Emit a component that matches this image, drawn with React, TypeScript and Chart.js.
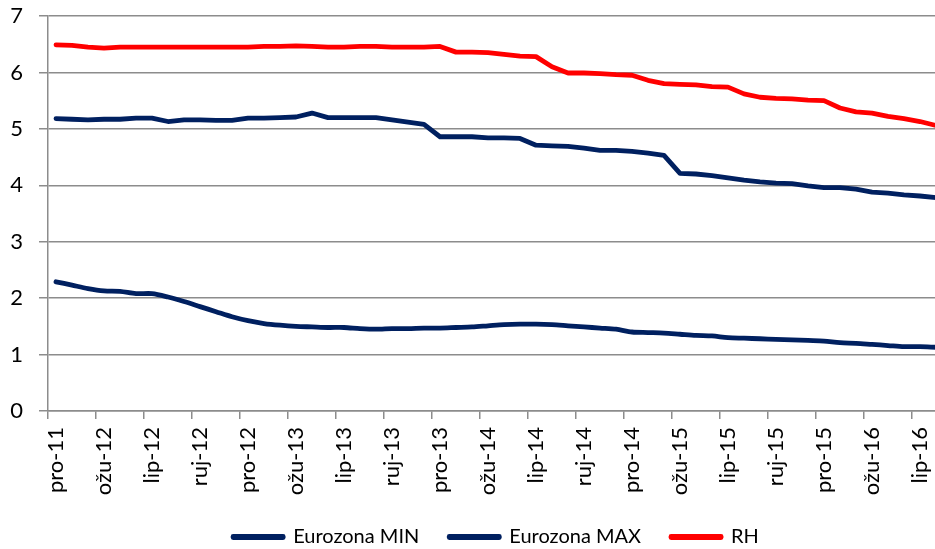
import React, { useEffect, useRef } from "react";
import { Chart, registerables } from "chart.js";

Chart.register(...registerables);

const categories = [
  "pro-11",
  "sij-12", "velj-12", "ožu-12", "tra-12", "svi-12", "lip-12", "srp-12", "kol-12", "ruj-12", "lis-12", "stu-12", "pro-12",
  "sij-13", "velj-13", "ožu-13", "tra-13", "svi-13", "lip-13", "srp-13", "kol-13", "ruj-13", "lis-13", "stu-13", "pro-13",
  "sij-14", "velj-14", "ožu-14", "tra-14", "svi-14", "lip-14", "srp-14", "kol-14", "ruj-14", "lis-14", "stu-14", "pro-14",
  "sij-15", "velj-15", "ožu-15", "tra-15", "svi-15", "lip-15", "srp-15", "kol-15", "ruj-15", "lis-15", "stu-15", "pro-15",
  "sij-16", "velj-16", "ožu-16", "tra-16", "svi-16", "lip-16", "srp-16",
];

const eurozonaMin = [
  2.29, 2.23, 2.17, 2.13, 2.12, 2.08, 2.08, 2.02, 1.94, 1.85, 1.76, 1.67, 1.60,
  1.55, 1.52, 1.50, 1.49, 1.48, 1.48, 1.46, 1.45, 1.46, 1.46, 1.47, 1.47,
  1.48, 1.49, 1.51, 1.53, 1.54, 1.54, 1.53, 1.51, 1.49, 1.47, 1.45, 1.40,
  1.39, 1.38, 1.36, 1.34, 1.33, 1.30, 1.29, 1.28, 1.27, 1.26, 1.25, 1.24,
  1.21, 1.20, 1.18, 1.16, 1.14, 1.14, 1.13,
];

const eurozonaMax = [
  5.18, 5.17, 5.16, 5.17, 5.17, 5.19, 5.19, 5.13, 5.16, 5.16, 5.15, 5.15, 5.19,
  5.19, 5.20, 5.21, 5.28, 5.20, 5.20, 5.20, 5.20, 5.16, 5.12, 5.08, 4.86,
  4.86, 4.86, 4.84, 4.84, 4.83, 4.71, 4.70, 4.69, 4.66, 4.62, 4.62, 4.60,
  4.57, 4.53, 4.21, 4.20, 4.17, 4.13, 4.09, 4.06, 4.04, 4.03, 3.99, 3.96,
  3.96, 3.93, 3.88, 3.86, 3.83, 3.81, 3.78,
];

const rh = [
  6.49, 6.48, 6.45, 6.43, 6.45, 6.45, 6.45, 6.45, 6.45, 6.45, 6.45, 6.45, 6.45,
  6.46, 6.46, 6.47, 6.46, 6.45, 6.45, 6.46, 6.46, 6.45, 6.45, 6.45, 6.46,
  6.36, 6.36, 6.35, 6.32, 6.29, 6.28, 6.10, 5.99, 5.99, 5.98, 5.96, 5.95,
  5.86, 5.80, 5.79, 5.78, 5.75, 5.74, 5.62, 5.56, 5.54, 5.53, 5.51, 5.50,
  5.37, 5.30, 5.28, 5.22, 5.18, 5.13, 5.06,
];

const yTickValues = [0, 1, 2, 3, 4, 5, 6, 7];
const labelEvery = 3;

const FONT = "Lato, 'Open Sans', sans-serif";
const NAVY = "#002060";
const RED = "#FF0000";
const GRID = "#8c8c8c";

export default function App() {
  const ref = useRef<HTMLCanvasElement>(null);

  useEffect(() => {
    if (!ref.current) return;
    const chart = new Chart(ref.current, {
      type: "line",
      data: {
        labels: categories,
        datasets: [
          {
            label: "Eurozona MIN",
            data: eurozonaMin,
            borderColor: NAVY,
            backgroundColor: NAVY,
            borderWidth: 4.8,
            pointRadius: 0,
            tension: 0.3,
            borderCapStyle: "round",
            borderJoinStyle: "round",
          },
          {
            label: "Eurozona MAX",
            data: eurozonaMax,
            borderColor: NAVY,
            backgroundColor: NAVY,
            borderWidth: 4.8,
            pointRadius: 0,
            tension: 0,
            borderCapStyle: "round",
            borderJoinStyle: "round",
          },
          {
            label: "RH",
            data: rh,
            borderColor: RED,
            backgroundColor: RED,
            borderWidth: 4.8,
            pointRadius: 0,
            tension: 0,
            borderCapStyle: "round",
            borderJoinStyle: "round",
          },
        ],
      },
      options: {
        animation: false,
        responsive: true,
        maintainAspectRatio: false,
        layout: { padding: { top: 16, right: 0, left: 0, bottom: -8 } },
        plugins: {
          tooltip: { enabled: false },
          legend: {
            position: "bottom",
            fullSize: false,
            labels: {
              boxWidth: 50,
              boxHeight: 1,
              padding: 30,
              color: "#000",
              font: { family: FONT, size: 20 },
            },
          },
        },
        scales: {
          x: {
            type: "category",
            offset: true,
            grid: {
              offset: true,
              drawOnChartArea: false,
              drawTicks: true,
              tickLength: 8,
              lineWidth: 1.5,
              color: (ctx: any) => (ctx.index % labelEvery === 0 ? GRID : "rgba(0,0,0,0)"),
            },
            border: { display: true, color: GRID, width: 1.5 },
            ticks: {
              autoSkip: false,
              minRotation: 90,
              maxRotation: 90,
              padding: 8,
              color: "#000",
              font: { family: FONT, size: 22 },
              callback: (_v: any, i: number) => (i % labelEvery === 0 ? categories[i] : ""),
            },
            afterFit: (scale: any) => {
              scale.height = 86;
              scale.paddingLeft = 0;
              scale.paddingRight = 0;
            },
          },
          y: {
            min: 0,
            max: 7,
            grid: {
              color: GRID,
              lineWidth: 1.5,
              tickLength: 9,
            },
            border: { display: true, color: GRID, width: 1.5 },
            ticks: {
              stepSize: 1,
              padding: 16,
              color: "#000",
              font: { family: FONT, size: 22 },
            },
            afterBuildTicks: (scale: any) => {
              scale.ticks = yTickValues.map((v) => ({ value: v }));
            },
            afterFit: (scale: any) => {
              scale.width = 48;
              scale.paddingTop = 0;
              scale.paddingBottom = 0;
            },
          },
        },
      },
    });
    return () => chart.destroy();
  }, []);

  return (
    <div
      style={{
        position: "fixed",
        left: 0,
        top: 0,
        width: 935,
        height: 549,
        overflow: "hidden",
        background: "#fff",
      }}
    >
      <div style={{ position: "relative", width: 944, height: 549 }}>
        <canvas ref={ref} />
      </div>
    </div>
  );
}
